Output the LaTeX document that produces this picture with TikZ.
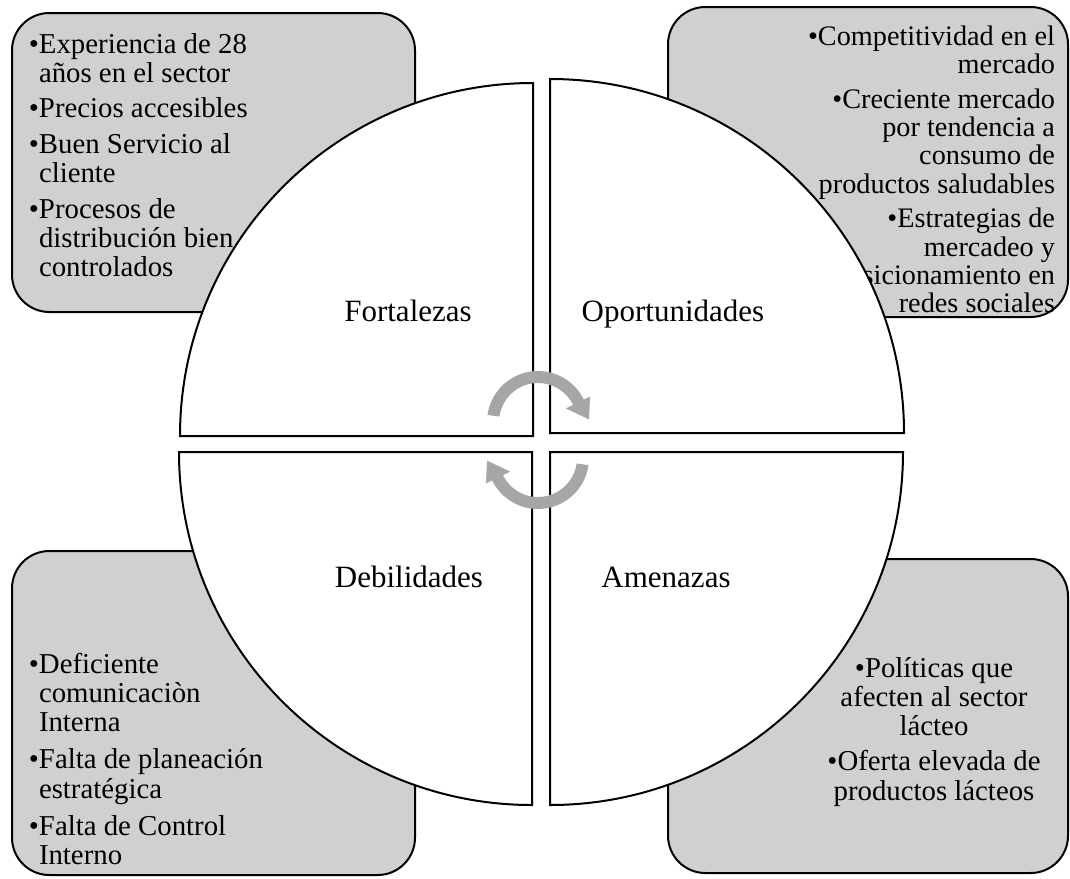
\documentclass[tikz,border=0pt]{standalone}
\usepackage{fontspec}
\setmainfont{Liberation Serif}
\definecolor{boxgray}{RGB}{208,208,208}
\definecolor{arrowgray}{RGB}{166,166,166}
\newcommand\Lline[1]{\hbox to 0pt{#1\hss}}
\newcommand\Rline[1]{\hbox to 0pt{\hss #1}}
\newcommand\Cline[1]{\hbox to 0pt{\hss #1\hss}}
\newcommand\bul{\llap{•}}
\begin{document}
\begin{tikzpicture}[x=0.75pt,y=-0.75pt,
  swotbox/.style={draw=black,line width=1.5pt,fill=boxgray,rounded corners=28pt},
  quad/.style={draw=black,line width=1.5pt,fill=white},
  boxtext/.style={inner sep=0pt,anchor=base},
  quadlabel/.style={inner sep=0pt,anchor=base,font=\fontsize{23.25pt}{28pt}\selectfont},
  cyclearrow/.style={fill=arrowgray}]
\useasboundingbox (0,0) rectangle (1070,878);

% boxes
\draw[swotbox] (12,13) rectangle (415,312);
\draw[swotbox] (668,7) rectangle (1068,317);
\draw[swotbox] (12,551) rectangle (415,875);
\draw[swotbox] (668,559) rectangle (1068,873);

% box texts
\node[boxtext] (ftext) at (39,53) {\fontsize{21.6pt}{21.75pt}\selectfont\vtop{%
  \Lline{\bul Experiencia de 28}\Lline{años en el sector}\vskip 5.2pt
  \Lline{\bul Precios accesibles}\vskip 5.2pt
  \Lline{\bul Buen Servicio al}\Lline{cliente}\vskip 5.2pt
  \Lline{\bul Procesos de}\Lline{distribución bien}\Lline{controlados}}};

\node[boxtext] (otext) at (1055,45) {\fontsize{21.2pt}{21.2pt}\selectfont\vtop{%
  \Rline{•Competitividad en el}\Rline{mercado}\vskip 5pt
  \Rline{•Creciente mercado}\Rline{por tendencia a}\Rline{consumo de}\Rline{productos saludables}\vskip 5pt
  \Rline{•Estrategias de}\Rline{mercadeo y}\Rline{posicionamiento en}\Rline{redes sociales}}};

\node[boxtext] (dtext) at (39,673) {\fontsize{21.6pt}{22.1pt}\selectfont\vtop{%
  \Lline{\bul Deficiente}\Lline{comunicaciòn}\Lline{Interna}\vskip 5.6pt
  \Lline{\bul Falta de planeación}\Lline{estratégica}\vskip 5.6pt
  \Lline{\bul Falta de Control}\Lline{Interno}}};

\node[boxtext] (atext) at (934,677) {\fontsize{21.6pt}{22.1pt}\selectfont\vtop{%
  \Cline{•Políticas que}\Cline{afecten al sector}\Cline{lácteo}\vskip 4pt
  \Cline{•Oferta elevada de}\Cline{productos lácteos}}};

% pie quadrants
\draw[quad] (533,436) -- (180,436) arc[start angle=180,end angle=270,radius=353] -- cycle;
\draw[quad] (550,433) -- (550,79) arc[start angle=270,end angle=360,radius=354] -- cycle;
\draw[quad] (550,452) -- (903,452) arc[start angle=0,end angle=90,radius=353] -- cycle;
\draw[quad] (532,452) -- (532,805) arc[start angle=90,end angle=180,radius=353] -- cycle;

% labels
\node[quadlabel] (f) at (408,321) {Fortalezas};
\node[quadlabel] (o) at (673,321) {Oportunidades};
\node[quadlabel] (d) at (409,587) {Debilidades};
\node[quadlabel] (a) at (666,587) {Amenazas};

% cycle arrows
\begin{scope}[shift={(538,422)}]
\fill[cyclearrow] (188:51) arc[start angle=188,end angle=334,radius=51] -- (334:58) -- (357:51) -- (334:31) -- (334:39) arc[start angle=334,end angle=188,radius=39] -- cycle;
\end{scope}
\begin{scope}[shift={(538,458)}]
\fill[cyclearrow] (8:51) arc[start angle=8,end angle=154,radius=51] -- (154:58) -- (177:51) -- (154:31) -- (154:39) arc[start angle=154,end angle=8,radius=39] -- cycle;
\end{scope}
\end{tikzpicture}
\end{document}
